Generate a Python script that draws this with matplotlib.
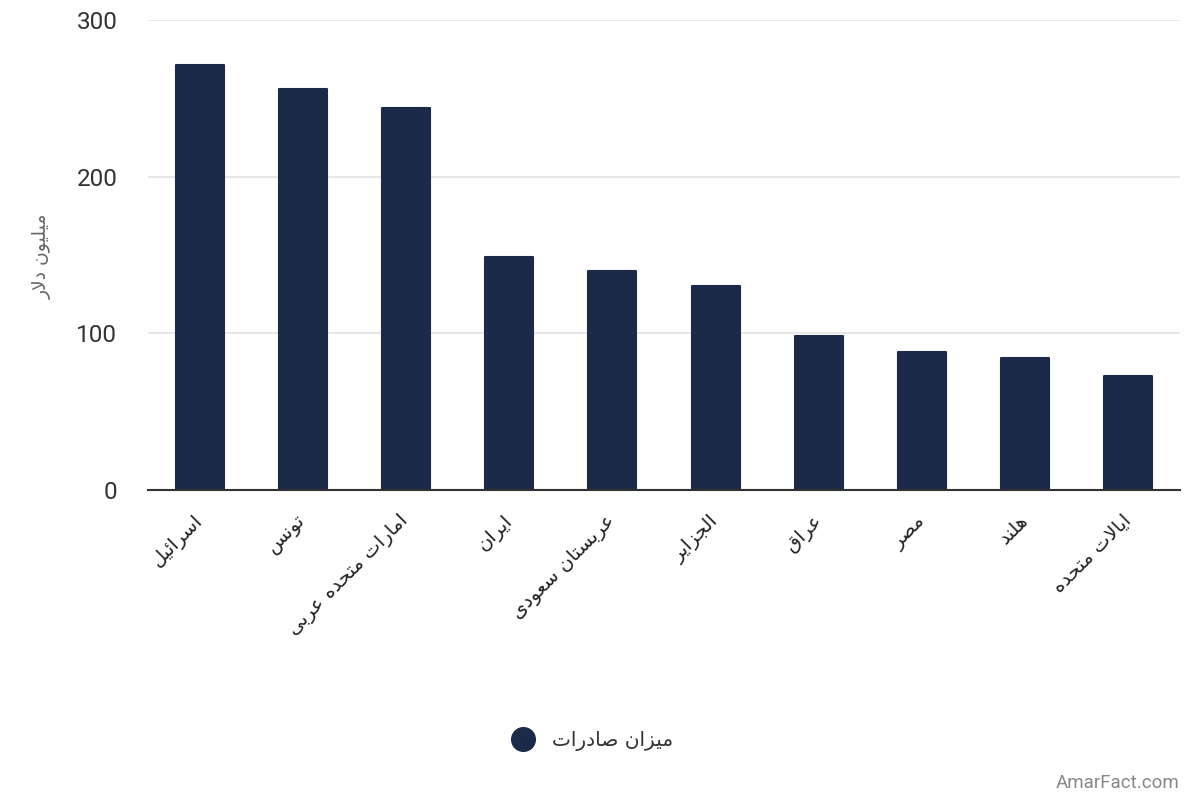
import matplotlib
matplotlib.use("Agg")
import matplotlib.pyplot as plt
from matplotlib.lines import Line2D

# ---------------- data ----------------
categories = ["اسرائیل", "تونس", "امارات متحده عربی", "ایران", "عربستان سعودی",
              "الجزایر", "عراق", "مصر", "هلند", "ایالات متحده"]
values = [271, 256, 244, 149, 140, 130, 98, 88, 84, 73]
y_ticks = [0, 100, 200, 300]
y_label = "میلیون دلار"
series_name = "میزان صادرات"
watermark = "AmarFact.com"

# ---------------- simple Persian shaping ----------------
# (isolated, final, initial, medial); None for initial/medial => right-joining only
FORMS = {
    'ا': (0xFE8D, 0xFE8E, None, None),
    'ب': (0xFE8F, 0xFE90, 0xFE91, 0xFE92),
    'ت': (0xFE95, 0xFE96, 0xFE97, 0xFE98),
    'ج': (0xFE9D, 0xFE9E, 0xFE9F, 0xFEA0),
    'ح': (0xFEA1, 0xFEA2, 0xFEA3, 0xFEA4),
    'د': (0xFEA9, 0xFEAA, None, None),
    'ر': (0xFEAD, 0xFEAE, None, None),
    'ز': (0xFEAF, 0xFEB0, None, None),
    'س': (0xFEB1, 0xFEB2, 0xFEB3, 0xFEB4),
    'ص': (0xFEB9, 0xFEBA, 0xFEBB, 0xFEBC),
    'ع': (0xFEC9, 0xFECA, 0xFECB, 0xFECC),
    'ق': (0xFED5, 0xFED6, 0xFED7, 0xFED8),
    'ل': (0xFEDD, 0xFEDE, 0xFEDF, 0xFEE0),
    'م': (0xFEE1, 0xFEE2, 0xFEE3, 0xFEE4),
    'ن': (0xFEE5, 0xFEE6, 0xFEE7, 0xFEE8),
    'ه': (0xFEE9, 0xFEEA, 0xFEEB, 0xFEEC),
    'و': (0xFEED, 0xFEEE, None, None),
    'ئ': (0xFE89, 0xFE8A, 0xFE8B, 0xFE8C),
    'ی': (0xFEEF, 0xFEF0, 0xFEF3, 0xFEF4),
}


def dual(c):
    return c in FORMS and FORMS[c][2] is not None


def shape(text):
    out = []
    i = 0
    n = len(text)
    while i < n:
        c = text[i]
        if c not in FORMS:
            out.append(c)
            i += 1
            continue
        prev = text[i - 1] if i > 0 else ''
        prev_j = dual(prev)
        if c == 'ل' and i + 1 < n and text[i + 1] == 'ا':
            out.append(chr(0xFEFC if prev_j else 0xFEFB))
            i += 2
            continue
        nxt = text[i + 1] if i + 1 < n else ''
        next_j = dual(c) and nxt in FORMS
        iso, fin, ini, med = FORMS[c]
        if prev_j and next_j:
            g = med
        elif prev_j:
            g = fin
        elif next_j:
            g = ini
        else:
            g = iso
        out.append(chr(g))
        i += 1
    return ''.join(out)[::-1]


# ---------------- plot ----------------
BAR = "#1c2a4a"
FAM = ["Roboto", "DejaVu Sans"]
plt.rcParams['font.family'] = FAM

fig = plt.figure(figsize=(12, 8), dpi=100)
ax = fig.add_axes([0.1233, 0.3875, 0.8600, 0.5875])

x = list(range(len(categories)))
ax.bar(x, values, width=0.465, color=BAR, edgecolor=BAR, linewidth=1.5,
       joinstyle='round', zorder=3)

ax.set_xlim(-0.5, len(categories) - 0.5)
ax.set_ylim(0, 300)
ax.set_yticks(y_ticks)
ax.set_yticklabels([str(t) for t in y_ticks], fontsize=17.5, color="#333333")
ax.yaxis.grid(True, color="#e3e3e3", linewidth=1.2, zorder=0)
ax.set_axisbelow(True)
ax.tick_params(axis='y', length=0, pad=22)
ax.tick_params(axis='x', length=0, pad=20)

ax.set_xticks(x)
ax.set_xticklabels([shape(c) for c in categories], rotation=45, ha='right',
                   va='center', rotation_mode='anchor', fontsize=14,
                   color="#222222", family=["DejaVu Sans"])

for s in ("left", "right", "top"):
    ax.spines[s].set_visible(False)
ax.spines["bottom"].set_color("#333333")
ax.spines["bottom"].set_linewidth(1.5)
ax.spines["bottom"].set_zorder(4)

fig.text(0.035, 0.68, shape(y_label), rotation=90, ha='center', va='center',
         fontsize=13.5, color="#666666", family=["DejaVu Sans"])

handle = Line2D([], [], linestyle='none', marker='o', markersize=17,
                markerfacecolor=BAR, markeredgecolor=BAR)
leg = fig.legend([handle], [shape(series_name)], loc='center',
                 bbox_to_anchor=(0.49, 0.074), frameon=False,
                 prop={'family': ["DejaVu Sans"], 'size': 14.5},
                 handletextpad=0.4)
for t in leg.get_texts():
    t.set_color("#333333")

fig.text(0.983, 0.021, watermark, ha='right', va='center', fontsize=13.5,
         color="#888888", family=["Roboto"])

fig.savefig("out.png", dpi=100, facecolor="white")
